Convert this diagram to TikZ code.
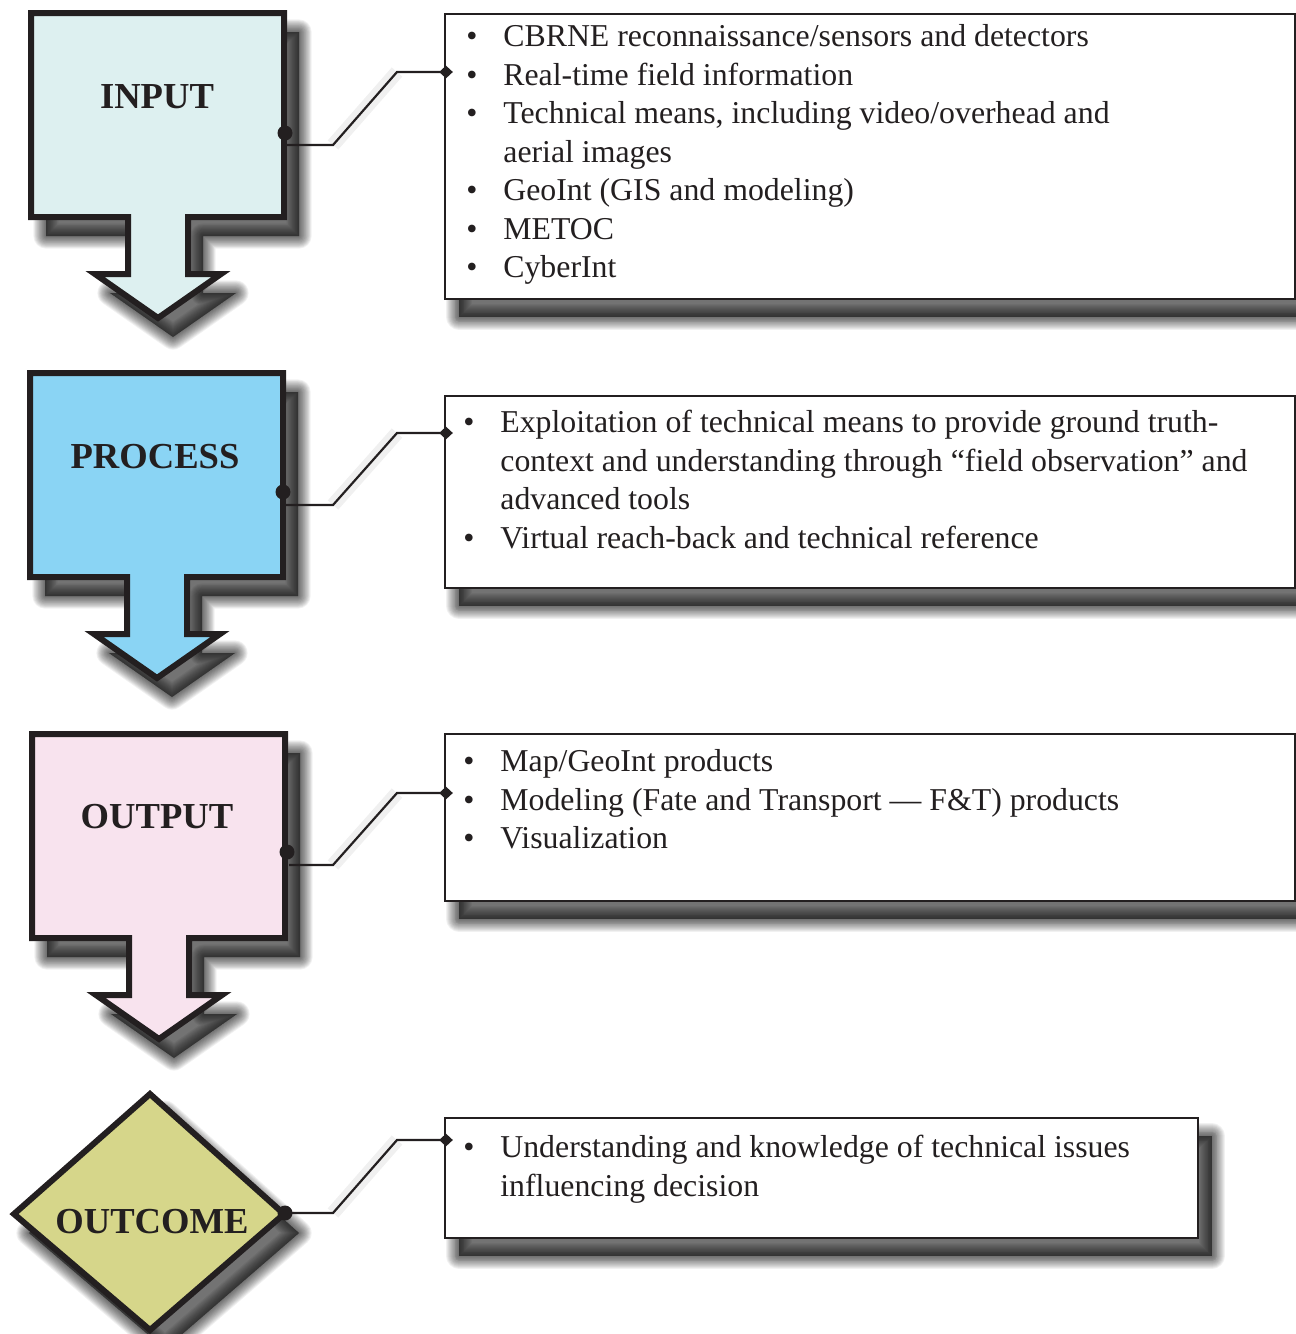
\documentclass[tikz,border=0pt]{standalone}
\usepackage{fontspec}
\setmainfont{Liberation Serif}
\usepackage{array}
\usetikzlibrary{shapes.geometric}

\definecolor{ink}{HTML}{231F20}
\definecolor{inputfill}{HTML}{DDF0F0}
\definecolor{processfill}{HTML}{8AD4F4}
\definecolor{outputfill}{HTML}{F8E3EE}
\definecolor{outcomefill}{HTML}{D6D68A}

% outline of a stage box with its downward arrow (origin = top-left corner)
\def\stagearrow{(0,0) -- (253,0) -- (253,204) -- (157,204) -- (157,261)
  -- (190,261) -- (127,305) -- (64,261) -- (97,261) -- (97,204) -- (0,204) -- cycle}

% soft drop shadow of a closed path: many faint layers with shrinking outlines
\newcommand\softshadow[1]{%
  \foreach \w in {1,...,14}{%
    \path[fill=black,draw=black,line width={\w*0.9pt},line join=round,
          fill opacity=0.055,draw opacity=0.055,shift={(15,19)}] #1;}}

\tikzset{
  stageline/.style={draw=ink,line width=3pt,line join=miter},
  stagelabel/.style={anchor=base,inner sep=0pt,text=ink,
    font=\fontsize{18.3}{22}\selectfont\bfseries},
  infobox/.style={draw=ink,fill=white,line width=1pt,anchor=north west,inner sep=0pt},
  listtext/.style={anchor=base west,inner sep=0pt,text=ink,
    font=\fontsize{15.9}{19.25}\selectfont},
  joint/.style={circle,fill=ink,inner sep=0pt,minimum size=7.5pt},
  tipmark/.style={diamond,fill=ink,inner sep=0pt,minimum width=7pt,minimum height=6.5pt},
  conn/.style={draw=ink,line width=1.1pt},
  connhaze/.style={draw=black,line width=7pt,opacity=0.06},
}

\newcommand\blist[1]{\begin{tabular}[t]{@{}p{18.5pt}@{}l@{}}#1\end{tabular}}

\begin{document}
\begin{tikzpicture}[x=0.5pt,y=-0.5pt]
\useasboundingbox (0,0) rectangle (1296,1334);

% ---------------- INPUT ----------------
\begin{scope}[shift={(31,13)}]
  \softshadow{\stagearrow}
  \path[stageline,fill=inputfill] \stagearrow;
\end{scope}
\node[stagelabel] (inputLbl) at (157,108) {INPUT};
\softshadow{(444,13) rectangle (1294,298)}
\node[infobox,minimum width=425pt,minimum height=142.5pt] (inputInfo) at (444,13) {};
\node[listtext] (inputText) at (466,46.5) {\blist{%
  \textbullet & CBRNE reconnaissance/sensors and detectors\\
  \textbullet & Real-time field information\\
  \textbullet & Technical means, including video/overhead and\\
              & aerial images\\
  \textbullet & GeoInt (GIS and modeling)\\
  \textbullet & METOC\\
  \textbullet & CyberInt}};
\node[joint] (inputDot) at (285,133) {};
\coordinate (inputStart) at (287,145);
\node[tipmark] (inputTip) at (446,72) {};
\draw[connhaze] (333,145) -- (397,72);
\draw[conn] (inputStart) -- (333,145) -- (397,72) -- (inputTip.center);

% ---------------- PROCESS ----------------
\begin{scope}[shift={(30,373)}]
  \softshadow{\stagearrow}
  \path[stageline,fill=processfill] \stagearrow;
\end{scope}
\node[stagelabel] (processLbl) at (155,468) {PROCESS};
\softshadow{(444,395) rectangle (1294,587)}
\node[infobox,minimum width=425pt,minimum height=96pt] (processInfo) at (444,395) {};
\node[listtext] (processText) at (463,432.5) {\blist{%
  \textbullet & Exploitation of technical means to provide ground truth-\\
              & context and understanding through “field observation” and\\
              & advanced tools\\
  \textbullet & Virtual reach-back and technical reference}};
\node[joint] (processDot) at (283,492) {};
\coordinate (processStart) at (285,505);
\node[tipmark] (processTip) at (446,433) {};
\draw[connhaze] (333,505) -- (397,433);
\draw[conn] (processStart) -- (333,505) -- (397,433) -- (processTip.center);

% ---------------- OUTPUT ----------------
\begin{scope}[shift={(32,734)}]
  \softshadow{\stagearrow}
  \path[stageline,fill=outputfill] \stagearrow;
\end{scope}
\node[stagelabel] (outputLbl) at (157,828) {OUTPUT};
\softshadow{(444,733) rectangle (1294,900)}
\node[infobox,minimum width=425pt,minimum height=83.5pt] (outputInfo) at (444,733) {};
\node[listtext] (outputText) at (463,771.5) {\blist{%
  \textbullet & Map/GeoInt products\\
  \textbullet & Modeling (Fate and Transport — F\&T) products\\
  \textbullet & Visualization}};
\node[joint] (outputDot) at (287,852) {};
\coordinate (outputStart) at (289,865);
\node[tipmark] (outputTip) at (446,793) {};
\draw[connhaze] (333,865) -- (397,793);
\draw[conn] (outputStart) -- (333,865) -- (397,793) -- (outputTip.center);

% ---------------- OUTCOME ----------------
\def\outcomediamond{(150,1094) -- (284,1214) -- (150,1330) -- (14,1214) -- cycle}
\softshadow{\outcomediamond}
\path[stageline,fill=outcomefill] \outcomediamond;
\node[stagelabel] (outcomeLbl) at (152,1233) {OUTCOME};
\softshadow{(444,1117) rectangle (1197,1237)}
\node[infobox,minimum width=376.5pt,minimum height=60pt] (outcomeInfo) at (444,1117) {};
\node[listtext] (outcomeText) at (463,1157.5) {\blist{%
  \textbullet & Understanding and knowledge of technical issues\\
              & influencing decision}};
\node[joint] (outcomeDot) at (285,1213) {};
\node[tipmark] (outcomeTip) at (446,1140) {};
\draw[connhaze] (333,1213) -- (397,1140);
\draw[conn] (outcomeDot.center) -- (333,1213) -- (397,1140) -- (outcomeTip.center);
\end{tikzpicture}
\end{document}
